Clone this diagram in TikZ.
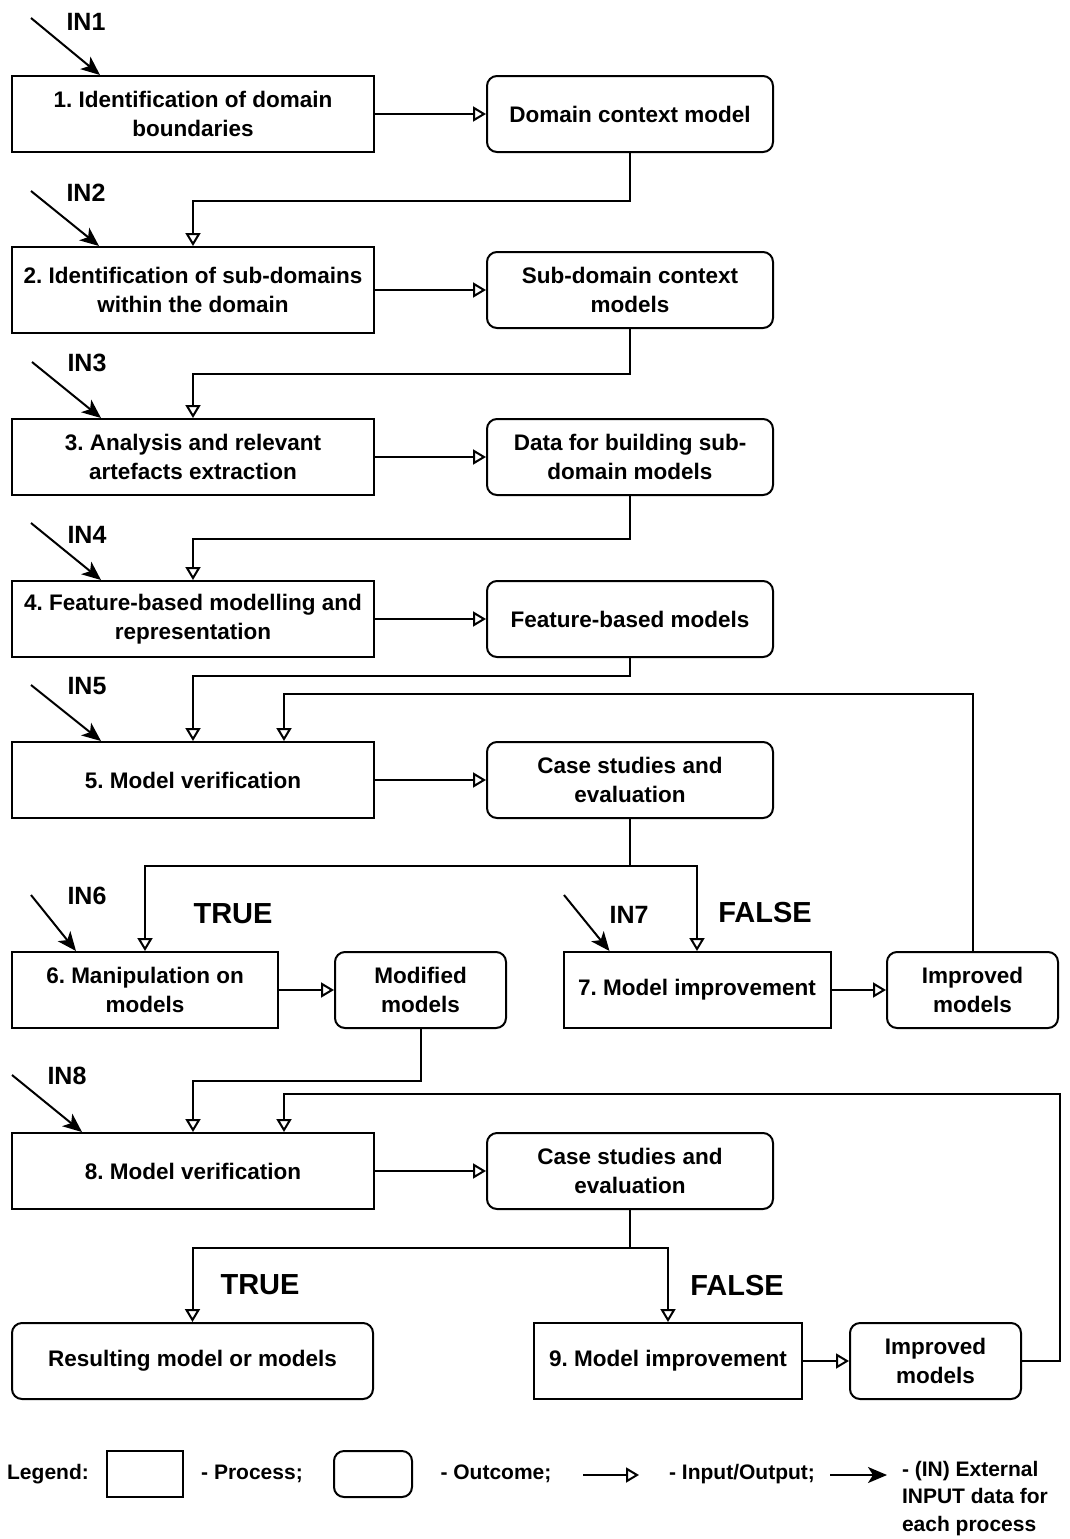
\documentclass[tikz,border=0pt]{standalone}
\usepackage{fontspec}
\setmainfont{Liberation Sans}
\usetikzlibrary{arrows.meta}
\newcommand{\procfont}{\bfseries\fontsize{22.5}{29}\selectfont}

\begin{document}
\frenchspacing
\begin{tikzpicture}[x=1pt, y=-1pt, line width=2pt,
	proc/.style={draw, rectangle, minimum width=362pt, minimum height=76pt, align=center, font=\procfont},
	outc/.style={proc, rounded corners=10pt, minimum width=286pt},
	io/.style={-{Triangle[open, length=13pt, width=15pt]}},
	ext/.style={-{Stealth[length=19pt, width=16pt, inset=5pt]}},
	inlab/.style={font=\bfseries\fontsize{25}{29}\selectfont},
	cond/.style={font=\bfseries\fontsize{29}{34}\selectfont},
	leg/.style={font=\bfseries\fontsize{21}{27.5}\selectfont, align=left}]
				\useasboundingbox (0,0) rectangle (1070,1539);
				\node[proc] (p1) at (193,114) {1. Identification of domain\\boundaries};
				\node[outc] (o1) at (630,114) {Domain context model};
				\node[proc, minimum height=86pt] (p2) at (193,290) {2. Identification of sub-domains\\within the domain};
				\node[outc] (o2) at (630,290) {Sub-domain context\\models};
				\node[proc] (p3) at (193,457) {3. Analysis and relevant\\artefacts extraction};
				\node[outc] (o3) at (630,457) {Data for building sub-\\domain models};
				\node[proc] (p4) at (193,619) {4. Feature-based modelling and\\representation};
				\node[outc] (o4) at (630,619) {Feature-based models};
				\node[proc] (p5) at (193,780) {5. Model verification};
				\node[outc] (o5) at (630,780) {Case studies and\\evaluation};
				\node[proc, minimum width=266pt] (p6) at (145,990) {6. Manipulation on\\models};
				\node[outc, minimum width=171pt] (o6) at (420.5,990) {Modified\\models};
				\node[proc, minimum width=267pt] (p7) at (697,990) {7. Model improvement};
				\node[outc, minimum width=171pt] (o7) at (972.5,990) {Improved\\models};
				\node[proc] (p8) at (193,1171) {8. Model verification};
				\node[outc] (o8) at (630,1171) {Case studies and\\evaluation};
				\node[outc, minimum width=361pt] (res) at (192.5,1361) {Resulting model or models};
				\node[proc, minimum width=268pt] (p9) at (668,1361) {9. Model improvement};
				\node[outc, minimum width=171pt] (o9) at (935.5,1361) {Improved\\models};
				\foreach \a/\b in {p1/o1,p2/o2,p3/o3,p4/o4,p5/o5,p6/o6,p7/o7,p8/o8,p9/o9}
					\draw[io] (\a) -- (\b);
				\draw[io] (o1.south) -- ++(0,48) -| (p2.north);
				\draw[io] (o2.south) -- ++(0,45) -| (p3.north);
				\draw[io] (o3.south) -- ++(0,43) -| (p4.north);
				\draw[io] (o4.south) -- ++(0,18) -| (p5.north);
				\draw (o5.south) -- ++(0,47) coordinate (j5);
				\draw[io] (j5) -| (p6.north);
				\draw[io] (j5) -| (p7.north);
				\draw[io] (o7.north) -- ++(0,-257) -| ([xshift=91pt]p5.north);
				\draw[io] (o6.south) -- ++(0,52) -| (p8.north);
				\draw[io] (o9.east) -- ++(38,0) -- ++(0,-267) -| ([xshift=91pt]p8.north);
				\draw (o8.south) -- ++(0,38) coordinate (j8);
				\draw[io] (j8) -| (res.north);
				\draw[io] (j8) -| (p9.north);
				\foreach \n/\sx/\sy/\dx in {1/31/18/89, 2/31/191/88, 3/32/362/90, 4/31/523/90, 5/31/685/90, 6/31/895/65, 7/564/895/47, 8/12/1075/71} {
					\coordinate (in\n) at (\sx,\sy);
					\draw[ext] (in\n) -- ([xshift=\dx pt]p\n.north west);
				}
				\foreach \n/\lx/\ly in {1/86/22, 2/86/193, 3/87/363, 4/87/535, 5/87/686, 6/87/896, 7/629/915, 8/67/1076}
					\node[inlab] (l\n) at (\lx,\ly) {IN\n};
				\node[cond] (t6) at (233,914) {TRUE};
				\node[cond] (f7) at (765,913) {FALSE};
				\node[cond] (t9) at (260,1285) {TRUE};
				\node[cond] (f9) at (737,1285) {FALSE};
				\node[leg] (lg) at (48,1474) {Legend:};
				\node[proc, minimum width=76pt, minimum height=46pt] (lp) at (145,1474) {};
				\node[leg] (lpt) at (252,1474) {- Process;};
				\node[outc, minimum width=78pt, minimum height=46pt] (lo) at (373,1474) {};
				\node[leg] (lot) at (496,1474) {- Outcome;};
				\coordinate (la) at (583,1475);
				\coordinate (lb) at (639,1475);
				\draw[io] (la) -- (lb);
				\node[leg] (lit) at (742,1474) {- Input/Output;};
				\coordinate (lc) at (830,1475);
				\coordinate (ld) at (887,1475);
				\draw[ext] (lc) -- (ld);
				\node[leg, anchor=north west, inner sep=0pt] (let) at (901,1460) {- (IN) External\\INPUT data for\\each process};
			\end{tikzpicture}
\end{document}
